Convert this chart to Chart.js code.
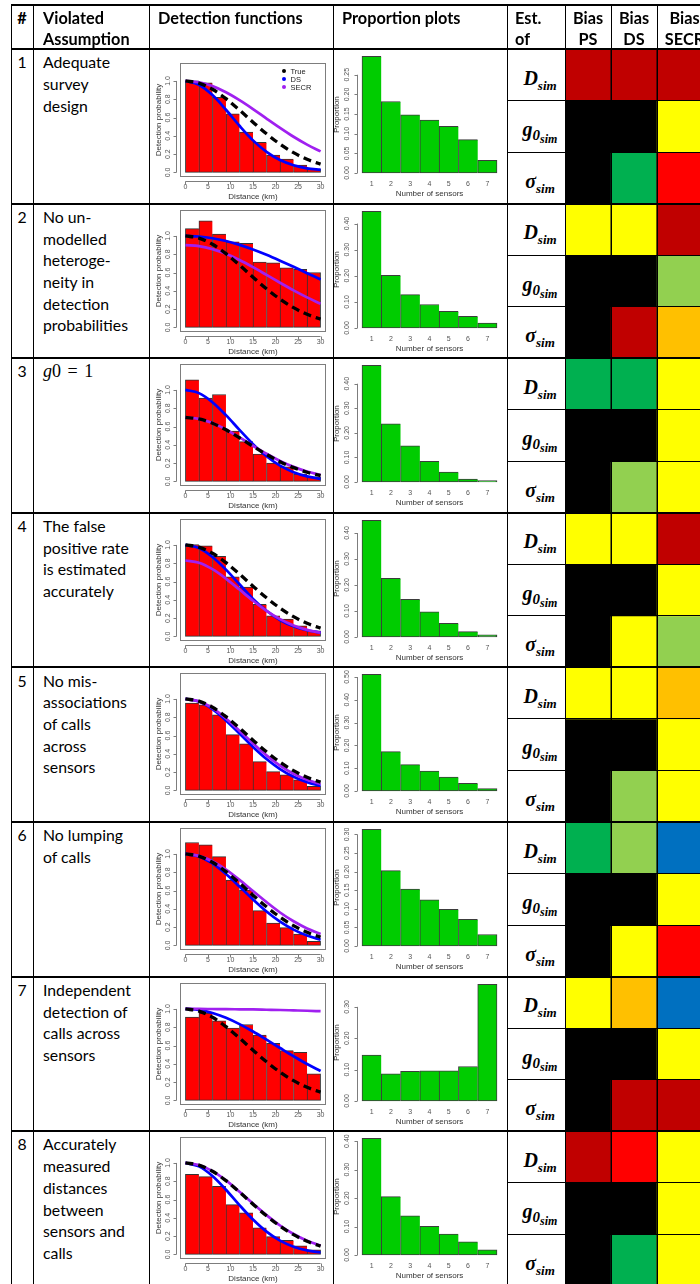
<!DOCTYPE html>
<html>
<head>
<meta charset="utf-8">
<title>Violated assumptions: detection functions, sensor proportions and bias</title>
<script src="https://cdn.jsdelivr.net/npm/chart.js@4.4.1/dist/chart.umd.min.js"></script>
<style>
  html, body { margin: 0; padding: 0; background: #fff; }
  body { position: relative; width: 700px; height: 1284px; overflow: hidden; font-family: Lato, "Open Sans", sans-serif; color: #000; }
  .line { position: absolute; background: #000; z-index: 10; }
  .head { position: absolute; font-weight: 700; font-size: 16.3px; line-height: 21px; white-space: nowrap; z-index: 4; }
  .num, .desc { position: absolute; font-size: 15.8px; line-height: 21.7px; white-space: nowrap; }
  .math { font-family: "Liberation Serif", "DejaVu Serif", serif; font-size: 18px; word-spacing: 2px; }
  .est { position: absolute; font-family: "Liberation Serif", "DejaVu Serif", serif; font-weight: 700; font-style: italic; font-size: 20px; line-height: 20px; white-space: nowrap; text-align: center; }
  .est .s1 { font-size: 13px; position: relative; top: 5px; }
  .est .s0 { font-size: 15px; position: relative; top: 4px; }
  .est .s2 { font-size: 12px; position: relative; top: 3px; }
  canvas { position: absolute; z-index: 1; }
</style>
</head>
<body>
<script>
// ---------- table content ----------
const rowNumbers = ['1', '2', '3', '4', '5', '6', '7', '8'];
const assumptionLines = [
  ['Adequate', 'survey', 'design'],
  ['No un-', 'modelled', 'heteroge-', 'neity in', 'detection', 'probabilities'],
  ['<span class="math"><i>g</i>0 = 1</span>'],
  ['The false', 'positive rate', 'is estimated', 'accurately'],
  ['No mis-', 'associations', 'of calls', 'across', 'sensors'],
  ['No lumping', 'of calls'],
  ['Independent', 'detection of', 'calls across', 'sensors'],
  ['Accurately', 'measured', 'distances', 'between', 'sensors and', 'calls']
];
const estimates = [
  'D<span class="s1">sim</span>',
  'g<span class="s0">0<span class="s2">sim</span></span>',
  '&sigma;<span class="s1">sim</span>'
];

// ---------- detection functions ----------
const binMids = [1.5, 4.5, 7.5, 10.5, 13.5, 16.5, 19.5, 22.5, 25.5, 28.5];
const curveDist = [0, 3, 6, 9, 12, 15, 18, 21, 24, 27, 30];
const distTicks = [0, 5, 10, 15, 20, 25, 30];
const probTicks = ['0.0', '0.2', '0.4', '0.6', '0.8', '1.0'];

const histHeights = [
  [1.00, 0.98, 0.82, 0.64, 0.44, 0.33, 0.19, 0.145, 0.08, 0.035],
  [1.08, 1.165, 1.02, 0.935, 0.92, 0.715, 0.705, 0.65, 0.635, 0.60],
  [1.11, 0.91, 0.95, 0.55, 0.435, 0.30, 0.20, 0.16, 0.08, 0.05],
  [1.005, 0.99, 0.875, 0.65, 0.54, 0.35, 0.225, 0.19, 0.115, 0.06],
  [0.955, 0.935, 0.825, 0.61, 0.51, 0.315, 0.205, 0.17, 0.115, 0.045],
  [1.125, 1.10, 0.97, 0.715, 0.605, 0.38, 0.245, 0.195, 0.125, 0.045],
  [0.91, 0.955, 0.87, 0.79, 0.83, 0.715, 0.625, 0.545, 0.525, 0.29],
  [0.875, 0.85, 0.745, 0.545, 0.455, 0.29, 0.195, 0.155, 0.095, 0.05]
];
const trueCurve = [
  [1.00, 0.976, 0.909, 0.806, 0.681, 0.549, 0.422, 0.309, 0.216, 0.143, 0.091],
  [1.00, 0.976, 0.909, 0.806, 0.681, 0.549, 0.422, 0.309, 0.216, 0.143, 0.091],
  [0.70, 0.683, 0.636, 0.564, 0.477, 0.384, 0.295, 0.216, 0.151, 0.100, 0.064],
  [1.00, 0.976, 0.909, 0.806, 0.681, 0.549, 0.422, 0.309, 0.216, 0.143, 0.091],
  [1.00, 0.976, 0.909, 0.806, 0.681, 0.549, 0.422, 0.309, 0.216, 0.143, 0.091],
  [1.00, 0.976, 0.909, 0.806, 0.681, 0.549, 0.422, 0.309, 0.216, 0.143, 0.091],
  [1.00, 0.976, 0.909, 0.806, 0.681, 0.549, 0.422, 0.309, 0.216, 0.143, 0.091],
  [1.00, 0.976, 0.909, 0.806, 0.681, 0.549, 0.422, 0.309, 0.216, 0.143, 0.091]
];
const dsCurve = [
  [1.00, 0.958, 0.845, 0.685, 0.51, 0.35, 0.225, 0.135, 0.078, 0.045, 0.03],
  [1.00, 0.994, 0.975, 0.944, 0.902, 0.851, 0.793, 0.729, 0.662, 0.593, 0.524],
  [1.00, 0.965, 0.866, 0.724, 0.563, 0.408, 0.275, 0.172, 0.101, 0.055, 0.028],
  [1.00, 0.966, 0.868, 0.73, 0.57, 0.41, 0.28, 0.18, 0.11, 0.068, 0.042],
  [1.00, 0.971, 0.888, 0.765, 0.621, 0.475, 0.343, 0.233, 0.149, 0.090, 0.051],
  [1.00, 0.973, 0.896, 0.780, 0.644, 0.503, 0.371, 0.260, 0.173, 0.108, 0.062],
  [1.00, 0.989, 0.956, 0.903, 0.834, 0.753, 0.664, 0.573, 0.483, 0.398, 0.321],
  [1.00, 0.962, 0.857, 0.707, 0.539, 0.381, 0.249, 0.151, 0.085, 0.044, 0.021]
];
const secrCurve = [
  [1.00, 0.985, 0.943, 0.876, 0.790, 0.693, 0.589, 0.487, 0.390, 0.304, 0.230],
  [0.90, 0.889, 0.856, 0.804, 0.737, 0.659, 0.574, 0.488, 0.405, 0.328, 0.259],
  [0.70, 0.684, 0.638, 0.567, 0.481, 0.390, 0.302, 0.224, 0.159, 0.108, 0.071],
  [0.83, 0.805, 0.735, 0.632, 0.512, 0.390, 0.280, 0.189, 0.120, 0.072, 0.040],
  [1.00, 0.974, 0.899, 0.787, 0.653, 0.514, 0.383, 0.271, 0.182, 0.116, 0.070],
  [1.00, 0.979, 0.920, 0.829, 0.717, 0.594, 0.473, 0.360, 0.264, 0.185, 0.125],
  [1.00, 1.00, 0.999, 0.998, 0.996, 0.994, 0.991, 0.988, 0.984, 0.980, 0.975],
  [1.00, 0.977, 0.910, 0.809, 0.685, 0.555, 0.429, 0.316, 0.223, 0.150, 0.097]
];

// ---------- proportion plots ----------
const sensorCounts = ['1', '2', '3', '4', '5', '6', '7'];
const sensorProportions = [
  [0.297, 0.182, 0.148, 0.135, 0.119, 0.085, 0.032],
  [0.447, 0.202, 0.128, 0.090, 0.064, 0.045, 0.019],
  [0.475, 0.237, 0.147, 0.084, 0.040, 0.012, 0.006],
  [0.449, 0.226, 0.145, 0.097, 0.053, 0.021, 0.008],
  [0.512, 0.173, 0.116, 0.087, 0.061, 0.034, 0.011],
  [0.314, 0.203, 0.153, 0.124, 0.099, 0.072, 0.031],
  [0.146, 0.087, 0.095, 0.096, 0.096, 0.110, 0.372],
  [0.410, 0.205, 0.138, 0.101, 0.074, 0.046, 0.018]
];
const proportionTicks = [
  ['0.00', '0.05', '0.10', '0.15', '0.20', '0.25'],
  ['0.00', '0.10', '0.20', '0.30', '0.40'],
  ['0.00', '0.10', '0.20', '0.30', '0.40'],
  ['0.00', '0.10', '0.20', '0.30', '0.40'],
  ['0.00', '0.10', '0.20', '0.30', '0.40', '0.50'],
  ['0.00', '0.05', '0.10', '0.15', '0.20', '0.25', '0.30'],
  ['0.00', '0.10', '0.20', '0.30'],
  ['0.00', '0.10', '0.20', '0.30', '0.40']
];

// ---------- bias classes: [D, g0, sigma] per assumption ----------
const biasMethods = ['PS', 'DS', 'SECR'];
const biasPS = [
  ['darkred', 'black', 'black'], ['yellow', 'black', 'black'], ['green', 'black', 'black'], ['yellow', 'black', 'black'],
  ['yellow', 'black', 'black'], ['green', 'black', 'black'], ['yellow', 'black', 'black'], ['darkred', 'black', 'black']
];
const biasDS = [
  ['darkred', 'black', 'green'], ['yellow', 'black', 'darkred'], ['green', 'black', 'lightgreen'], ['yellow', 'black', 'yellow'],
  ['yellow', 'black', 'lightgreen'], ['lightgreen', 'black', 'yellow'], ['orange', 'black', 'darkred'], ['red', 'black', 'green']
];
const biasSECR = [
  ['darkred', 'yellow', 'red'], ['darkred', 'lightgreen', 'orange'], ['yellow', 'yellow', 'yellow'], ['darkred', 'yellow', 'lightgreen'],
  ['orange', 'yellow', 'yellow'], ['blue', 'yellow', 'red'], ['blue', 'yellow', 'darkred'], ['yellow', 'yellow', 'yellow']
];
const biasPalette = {
  darkred: '#C00000', red: '#FF0000', orange: '#FFC000', yellow: '#FFFF00',
  lightgreen: '#92D050', green: '#00B050', blue: '#0070C0', black: '#000000'
};

// ---------- page geometry ----------
const TABLE_TOP = 5, HEAD_BOTTOM = 49, ROW_H = 154.6, SUB_H = ROW_H / 3;
const colX = [11, 33, 149, 333, 507, 565, 611, 657];
const headWidths = [46, 46, 55];
const rowTop = k => HEAD_BOTTOM + k * ROW_H;

function add(tag, cls, css, html) {
  const e = document.createElement(tag);
  if (cls) e.className = cls;
  Object.assign(e.style, css);
  if (html !== undefined) e.innerHTML = html;
  document.body.appendChild(e);
  return e;
}
function hLine(y, x0, x1, t) { add('div', 'line', { left: x0 + 'px', top: (y - t / 2) + 'px', width: (x1 - x0) + 'px', height: t + 'px' }); }
function vLine(x, y0, y1, t) { add('div', 'line', { left: (x - t / 2) + 'px', top: y0 + 'px', width: t + 'px', height: (y1 - y0) + 'px' }); }

// header
const headTop = 6.5;
add('div', 'head', { left: '11px', width: '22px', textAlign: 'center', top: headTop + 'px' }, '#');
add('div', 'head', { left: '43px', top: headTop + 'px' }, 'Violated<br>Assumption');
add('div', 'head', { left: '158px', top: headTop + 'px' }, 'Detection functions');
add('div', 'head', { left: '342px', top: headTop + 'px' }, 'Proportion plots');
add('div', 'head', { left: '515px', top: headTop + 'px' }, 'Est.<br>of');
biasMethods.forEach((m, i) => add('div', 'head', { left: colX[5 + i] + 'px', width: headWidths[i] + 'px', textAlign: 'center', top: headTop + 'px' }, 'Bias<br>' + m));

// row text and estimate labels
for (let k = 0; k < 8; k++) {
  const t = rowTop(k);
  add('div', 'num', { left: '11px', width: '22px', textAlign: 'center', top: (t + 2.2) + 'px' }, rowNumbers[k]);
  add('div', 'desc', { left: '43px', top: (t + 2.2) + 'px' }, assumptionLines[k].join('<br>'));
  estimates.forEach((h, j) => add('div', 'est', { left: '511px', width: '58px', top: (t + j * SUB_H + 18.5) + 'px' }, h));
}

// ---------- R-style axes, box and legend drawn from the chart scales ----------
const rAxes = {
  id: 'rAxes',
  afterDatasetsDraw(chart, _args, o) {
    const { ctx, chartArea: a, scales: { x, y } } = chart;
    ctx.save();
    ctx.strokeStyle = '#7d7d7d';
    ctx.lineWidth = 1;
    if (o.box) {
      ctx.strokeRect(Math.round(a.left) + 0.5, Math.round(a.top) + 0.5,
        Math.round(a.right - a.left) - 1, Math.round(a.bottom - a.top) - 1);
    }
    const yv = o.yLabels.map(Number);
    const ax = Math.round(a.left - o.gap) + 0.5;
    ctx.beginPath();
    ctx.moveTo(ax, y.getPixelForValue(yv[0]));
    ctx.lineTo(ax, y.getPixelForValue(yv[yv.length - 1]));
    yv.forEach(v => { const p = Math.round(y.getPixelForValue(v)) + 0.5; ctx.moveTo(ax, p); ctx.lineTo(ax - 3, p); });
    const xv = o.xValues;
    if (o.xLine) {
      const ay = Math.round(a.bottom + o.gap) + 0.5;
      ctx.moveTo(x.getPixelForValue(xv[0]), ay);
      ctx.lineTo(x.getPixelForValue(xv[xv.length - 1]), ay);
      xv.forEach(v => { const p = Math.round(x.getPixelForValue(v)) + 0.5; ctx.moveTo(p, ay); ctx.lineTo(p, ay + 3); });
    }
    ctx.stroke();

    ctx.fillStyle = '#555';
    ctx.font = '7px "Liberation Sans", Arial, sans-serif';
    ctx.textAlign = 'center';
    ctx.textBaseline = 'middle';
    xv.forEach((v, i) => ctx.fillText(o.xLabels[i], x.getPixelForValue(v), a.bottom + o.xLabelOff));
    yv.forEach((v, i) => {
      ctx.save();
      ctx.translate(a.left - o.yLabelOff, y.getPixelForValue(v));
      ctx.rotate(-Math.PI / 2);
      ctx.fillText(o.yLabels[i], 0, 0);
      ctx.restore();
    });

    ctx.fillStyle = '#333';
    ctx.font = '8px "Liberation Sans", Arial, sans-serif';
    ctx.fillText(o.xTitle, (a.left + a.right) / 2, a.bottom + o.xTitleOff);
    ctx.save();
    ctx.translate(o.yTitleX, (a.top + a.bottom) / 2);
    ctx.rotate(-Math.PI / 2);
    ctx.fillText(o.yTitle, 0, 0);
    ctx.restore();

    if (o.legend) {
      ctx.font = '7.5px "Liberation Sans", Arial, sans-serif';
      ctx.textAlign = 'left';
      chart.data.datasets.filter(d => d.type === 'line').sort((p, q) => p.legendRank - q.legendRank).forEach((d, i) => {
        const ly = o.legend.y + i * 8;
        ctx.fillStyle = d.borderColor;
        ctx.beginPath();
        ctx.arc(o.legend.x, ly, 2, 0, Math.PI * 2);
        ctx.fill();
        ctx.fillStyle = '#222';
        ctx.fillText(d.label, o.legend.x + 6.5, ly + 0.5);
      });
    }
    ctx.restore();
  }
};

// cell borders of the bias grid, placed on the grid's own scales
const cellBorders = {
  id: 'cellBorders',
  afterDatasetsDraw(chart, _args, o) {
    const { ctx, chartArea: a, scales: { x, y } } = chart;
    ctx.save();
    ctx.fillStyle = '#000';
    for (let c = 0; c <= o.cols; c++) {
      const px = Math.round(x.getPixelForValue(c));
      ctx.fillRect(px - 0.5, a.top, 1, a.bottom - a.top);
    }
    for (let r = 0; r <= o.rows; r++) {
      const py = y.getPixelForValue(r);
      const t = r % 3 === 0 ? 2 : 1;
      ctx.fillRect(a.left, Math.round(py - t / 2), a.right - a.left, t);
    }
    ctx.restore();
  }
};

function makeCanvas(left, top, w, h) {
  const c = add('canvas', '', { left: left + 'px', top: top + 'px', width: w + 'px', height: h + 'px' });
  c.width = w; c.height = h;
  return c;
}
const toPoints = (xs, ys) => xs.map((x, i) => ({ x, y: ys[i] }));
const fixTicks = vals => s => { s.ticks = vals.map(v => ({ value: v })); };

// detection-function panels
for (let k = 0; k < 8; k++) {
  const H = 154, W = 183;
  const cv = makeCanvas(150, Math.round(rowTop(k)), W, H);
  const boxTop = k === 0 ? 14 : 6, boxBottom = 128;
  const yMin = -0.05, yMax = (boxBottom - boxTop) / 91.5 + yMin;
  const last = histHeights[k].length - 1;
  new Chart(cv, {
    type: 'bar',
    data: {
      datasets: [
        { type: 'line', label: 'True', legendRank: 0, data: toPoints(curveDist, trueCurve[k]), borderColor: '#000000',
          borderWidth: 3.3, borderDash: [8, 5], pointRadius: 0, cubicInterpolationMode: 'monotone', order: 0 },
        { type: 'line', label: 'SECR', legendRank: 2, data: toPoints(curveDist, secrCurve[k]), borderColor: '#A020F0',
          borderWidth: 2.7, pointRadius: 0, cubicInterpolationMode: 'monotone', order: 1 },
        { type: 'line', label: 'DS', legendRank: 1, data: toPoints(curveDist, dsCurve[k]), borderColor: '#0000FF',
          borderWidth: 2.7, pointRadius: 0, cubicInterpolationMode: 'monotone', order: 2 },
        { type: 'bar', label: 'Detections', data: toPoints(binMids, histHeights[k]), backgroundColor: '#FF0000',
          borderColor: '#333333', borderSkipped: false,
          borderWidth: c => ({ top: 1, left: 1, bottom: 1, right: c.dataIndex === last ? 1 : 0 }),
          barPercentage: 1, categoryPercentage: 1, order: 3 }
      ]
    },
    options: {
      responsive: false, animation: false, events: [],
      layout: { padding: { left: 30, right: W - 176, top: boxTop, bottom: H - boxBottom } },
      plugins: {
        legend: { display: false }, tooltip: { enabled: false },
        rAxes: {
          box: true, gap: 4, xLine: true,
          xValues: distTicks, xLabels: distTicks.map(String), xLabelOff: 10, xTitle: 'Distance (km)', xTitleOff: 19.5,
          yLabels: probTicks, yLabelOff: 12, yTitle: 'Detection probability', yTitleX: 8.5,
          legend: k === 0 ? { x: 134, y: 22 } : null
        }
      },
      scales: {
        x: { type: 'linear', display: false, offset: false, min: -1.2, max: 31.2, afterBuildTicks: fixTicks(distTicks) },
        y: { type: 'linear', display: false, min: yMin, max: yMax, afterBuildTicks: fixTicks(probTicks.map(Number)) }
      }
    },
    plugins: [rAxes]
  });
}

// proportion panels
for (let k = 0; k < 8; k++) {
  const H = 154, W = 173;
  const cv = makeCanvas(334, Math.round(rowTop(k)), W, H);
  const props = sensorProportions[k];
  const M = Math.max(...props);
  const centers = sensorCounts.map((_, i) => i + 0.5);
  const last = props.length - 1;
  new Chart(cv, {
    type: 'bar',
    data: {
      datasets: [{
        label: 'Proportion', data: toPoints(centers, props), backgroundColor: '#00CC00', borderColor: '#3c3c3c',
        borderSkipped: false,
        borderWidth: c => ({ top: 1, left: 1, bottom: 1, right: c.dataIndex === last ? 1 : 0 }),
        barPercentage: 1, categoryPercentage: 1
      }]
    },
    options: {
      responsive: false, animation: false, events: [],
      layout: { padding: { left: 22.6, right: W - 168.4, top: 2.6, bottom: H - 128.7 } },
      plugins: {
        legend: { display: false }, tooltip: { enabled: false },
        rAxes: {
          box: false, gap: 0, xLine: false,
          xValues: centers, xLabels: sensorCounts, xLabelOff: 6.5, xTitle: 'Number of sensors', xTitleOff: 16.5,
          yLabels: proportionTicks[k], yLabelOff: 9.5, yTitle: 'Proportion', yTitleX: 3
        }
      },
      scales: {
        x: { type: 'linear', display: false, offset: false, min: -0.28, max: 7.28, afterBuildTicks: fixTicks(centers) },
        y: { type: 'linear', display: false, min: -0.04 * M, max: 1.04 * M, afterBuildTicks: fixTicks(proportionTicks[k].map(Number)) }
      }
    },
    plugins: [rAxes]
  });
}

// bias grid: one stacked cell per estimate row and method column
(function () {
  const W = 135, H = Math.round(8 * ROW_H) + 2;
  const cv = makeCanvas(colX[5], HEAD_BOTTOM, W, H);
  const colCenters = [0.5, 1.5, 2.5];
  const tables = [biasPS, biasDS, biasSECR];
  const datasets = [];
  for (let k = 0; k < 8; k++) {
    for (let j = 0; j < 3; j++) {
      datasets.push({
        label: 'row ' + (k + 1) + '.' + (j + 1),
        data: colCenters.map(x => ({ x, y: 1 })),
        backgroundColor: tables.map(t => biasPalette[t[k][j]]),
        borderWidth: 0, barPercentage: 1, categoryPercentage: 1, stack: 'cells'
      });
    }
  }
  new Chart(cv, {
    type: 'bar',
    data: { datasets },
    options: {
      responsive: false, animation: false, events: [],
      layout: { padding: 0 },
      plugins: { legend: { display: false }, tooltip: { enabled: false }, cellBorders: { cols: 3, rows: 24 } },
      scales: {
        x: { type: 'linear', display: false, offset: false, stacked: true, min: 0, max: W / 46, afterBuildTicks: fixTicks(colCenters) },
        y: { type: 'linear', display: false, stacked: true, reverse: true, min: 0, max: H / SUB_H }
      }
    },
    plugins: [cellBorders]
  });
})();

// table rules, laid over everything
hLine(TABLE_TOP, colX[0], 700, 1.5);
hLine(HEAD_BOTTOM, colX[0], 700, 1.5);
for (let k = 1; k <= 8; k++) hLine(rowTop(k), colX[0], 700, 2);
for (let k = 0; k < 8; k++) for (let j = 1; j < 3; j++) hLine(rowTop(k) + j * SUB_H, colX[4], 700, 1);
colX.forEach(x => vLine(x, TABLE_TOP, 1284, 1));
</script>
</body>
</html>
